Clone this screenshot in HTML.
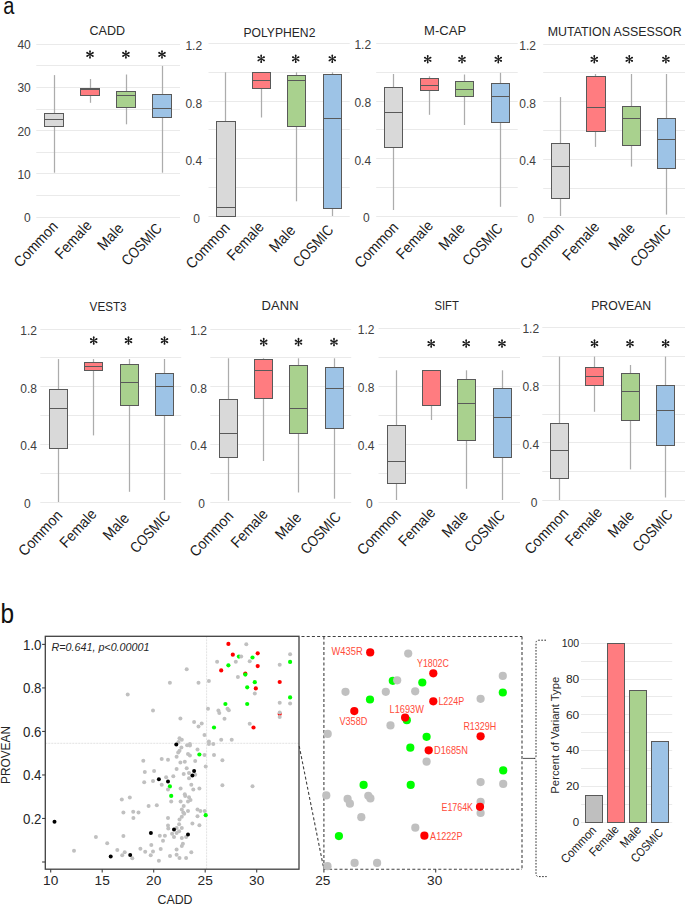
<!DOCTYPE html>
<html><head><meta charset="utf-8"><style>html,body{margin:0;padding:0;background:#fff;overflow:hidden}svg{display:block}</style></head>
<body>
<svg width="685" height="905" viewBox="0 0 685 905" font-family='"Liberation Sans", sans-serif'>
<rect width="685" height="905" fill="#ffffff"/>
<text x="0" y="0" font-size="20" fill="#111" transform="translate(3.2,14.0) scale(1,1.24)">a</text>
<line x1="36.3" y1="44.5" x2="180" y2="44.5" stroke="#eaeaea" stroke-width="1"/>
<line x1="36.3" y1="65.5" x2="180" y2="65.5" stroke="#eaeaea" stroke-width="1"/>
<line x1="36.3" y1="87.5" x2="180" y2="87.5" stroke="#eaeaea" stroke-width="1"/>
<line x1="36.3" y1="109.5" x2="180" y2="109.5" stroke="#eaeaea" stroke-width="1"/>
<line x1="36.3" y1="130.5" x2="180" y2="130.5" stroke="#eaeaea" stroke-width="1"/>
<line x1="36.3" y1="152.5" x2="180" y2="152.5" stroke="#eaeaea" stroke-width="1"/>
<line x1="36.3" y1="173.5" x2="180" y2="173.5" stroke="#eaeaea" stroke-width="1"/>
<line x1="36.3" y1="195.5" x2="180" y2="195.5" stroke="#eaeaea" stroke-width="1"/>
<line x1="36.3" y1="217.5" x2="180" y2="217.5" stroke="#eaeaea" stroke-width="1"/>
<text x="30.80" y="49.10" font-size="12" text-anchor="end" fill="#404040" >40</text>
<text x="30.80" y="92.30" font-size="12" text-anchor="end" fill="#404040" >30</text>
<text x="30.80" y="135.50" font-size="12" text-anchor="end" fill="#404040" >20</text>
<text x="30.80" y="178.70" font-size="12" text-anchor="end" fill="#404040" >10</text>
<text x="30.80" y="221.90" font-size="12" text-anchor="end" fill="#404040" >0</text>
<text x="107.3" y="34.8" font-size="13.7" text-anchor="middle" fill="#262626" textLength="35.5" lengthAdjust="spacingAndGlyphs" >CADD</text>
<line x1="54.5" y1="75.1" x2="54.5" y2="172.7" stroke="#acacac" stroke-width="1.25"/>
<rect x="44.5" y="113.5" width="19.0" height="13.0" fill="#d9d9d9" stroke="#595959" stroke-width="1"/>
<line x1="44.5" y1="119.5" x2="63.5" y2="119.5" stroke="#595959" stroke-width="1"/>
<line x1="90.5" y1="79" x2="90.5" y2="102.8" stroke="#acacac" stroke-width="1.25"/>
<rect x="80.5" y="88.5" width="19.0" height="7.0" fill="#ff7c80" stroke="#595959" stroke-width="1"/>
<line x1="80.5" y1="89.5" x2="99.5" y2="89.5" stroke="#595959" stroke-width="1"/>
<line x1="126.5" y1="74.5" x2="126.5" y2="124.3" stroke="#acacac" stroke-width="1.25"/>
<rect x="116.5" y="91.5" width="19.0" height="16.0" fill="#a9d18e" stroke="#595959" stroke-width="1"/>
<line x1="116.5" y1="95.5" x2="135.5" y2="95.5" stroke="#595959" stroke-width="1"/>
<line x1="162.5" y1="65.9" x2="162.5" y2="172.7" stroke="#acacac" stroke-width="1.25"/>
<rect x="152.5" y="94.5" width="19.0" height="23.0" fill="#9dc3e6" stroke="#595959" stroke-width="1"/>
<line x1="152.5" y1="108.5" x2="171.5" y2="108.5" stroke="#595959" stroke-width="1"/>
<g fill="#1a1a1a"><path d="M90.35,54.40 L90.85,51.00 L89.15,51.00 L89.65,54.40ZM89.65,54.40 L89.15,57.80 L90.85,57.80 L90.35,54.40ZM90.17,54.70 L93.37,53.44 L92.52,51.96 L89.83,54.10ZM90.17,54.10 L87.48,51.96 L86.63,53.44 L89.83,54.70ZM89.83,54.10 L86.63,55.36 L87.48,56.84 L90.17,54.70ZM89.83,54.70 L92.52,56.84 L93.37,55.36 L90.17,54.10Z"/><circle cx="90.00" cy="51.00" r="0.85"/><circle cx="90.00" cy="57.80" r="0.85"/><circle cx="92.94" cy="52.70" r="0.85"/><circle cx="87.06" cy="52.70" r="0.85"/><circle cx="87.06" cy="56.10" r="0.85"/><circle cx="92.94" cy="56.10" r="0.85"/><path d="M126.25,54.40 L126.75,51.00 L125.05,51.00 L125.55,54.40ZM125.55,54.40 L125.05,57.80 L126.75,57.80 L126.25,54.40ZM126.08,54.70 L129.27,53.44 L128.42,51.96 L125.73,54.10ZM126.08,54.10 L123.38,51.96 L122.53,53.44 L125.73,54.70ZM125.73,54.10 L122.53,55.36 L123.38,56.84 L126.08,54.70ZM125.73,54.70 L128.42,56.84 L129.27,55.36 L126.08,54.10Z"/><circle cx="125.90" cy="51.00" r="0.85"/><circle cx="125.90" cy="57.80" r="0.85"/><circle cx="128.84" cy="52.70" r="0.85"/><circle cx="122.96" cy="52.70" r="0.85"/><circle cx="122.96" cy="56.10" r="0.85"/><circle cx="128.84" cy="56.10" r="0.85"/><path d="M162.35,54.40 L162.85,51.00 L161.15,51.00 L161.65,54.40ZM161.65,54.40 L161.15,57.80 L162.85,57.80 L162.35,54.40ZM162.18,54.70 L165.37,53.44 L164.52,51.96 L161.82,54.10ZM162.18,54.10 L159.48,51.96 L158.63,53.44 L161.82,54.70ZM161.82,54.10 L158.63,55.36 L159.48,56.84 L162.18,54.70ZM161.82,54.70 L164.52,56.84 L165.37,55.36 L162.18,54.10Z"/><circle cx="162.00" cy="51.00" r="0.85"/><circle cx="162.00" cy="57.80" r="0.85"/><circle cx="164.94" cy="52.70" r="0.85"/><circle cx="159.06" cy="52.70" r="0.85"/><circle cx="159.06" cy="56.10" r="0.85"/><circle cx="164.94" cy="56.10" r="0.85"/></g>
<text x="0" y="0" font-size="14" text-anchor="end" fill="#1a1a1a" transform="translate(58.70,227.20) rotate(-47) scale(0.99,1.08)">Common</text>
<text x="0" y="0" font-size="14" text-anchor="end" fill="#1a1a1a" transform="translate(92.70,226.20) rotate(-47) scale(0.99,1.08)">Female</text>
<text x="0" y="0" font-size="14" text-anchor="end" fill="#1a1a1a" transform="translate(124.50,229.00) rotate(-47) scale(1.0,1.08)">Male</text>
<text x="0" y="0" font-size="14" text-anchor="end" fill="#1a1a1a" transform="translate(162.80,229.30) rotate(-47) scale(0.91,1.08)">COSMIC</text>
<line x1="208.5" y1="43.5" x2="349.7" y2="43.5" stroke="#eaeaea" stroke-width="1"/>
<line x1="208.5" y1="72.5" x2="349.7" y2="72.5" stroke="#eaeaea" stroke-width="1"/>
<line x1="208.5" y1="101.5" x2="349.7" y2="101.5" stroke="#eaeaea" stroke-width="1"/>
<line x1="208.5" y1="129.5" x2="349.7" y2="129.5" stroke="#eaeaea" stroke-width="1"/>
<line x1="208.5" y1="158.5" x2="349.7" y2="158.5" stroke="#eaeaea" stroke-width="1"/>
<line x1="208.5" y1="187.5" x2="349.7" y2="187.5" stroke="#eaeaea" stroke-width="1"/>
<line x1="208.5" y1="216.5" x2="349.7" y2="216.5" stroke="#eaeaea" stroke-width="1"/>
<text x="202.10" y="49.90" font-size="12" text-anchor="end" fill="#404040" >1.2</text>
<text x="202.10" y="107.53" font-size="12" text-anchor="end" fill="#404040" >0.8</text>
<text x="202.10" y="165.17" font-size="12" text-anchor="end" fill="#404040" >0.4</text>
<text x="200.00" y="222.80" font-size="12" text-anchor="end" fill="#404040" >0</text>
<text x="279.4" y="36.599999999999994" font-size="13.7" text-anchor="middle" fill="#262626" textLength="72" lengthAdjust="spacingAndGlyphs" >POLYPHEN2</text>
<line x1="225.5" y1="72.3" x2="225.5" y2="216.2" stroke="#acacac" stroke-width="1.25"/>
<rect x="216.5" y="121.5" width="19.0" height="95.0" fill="#d9d9d9" stroke="#595959" stroke-width="1"/>
<line x1="216.5" y1="207.5" x2="235.5" y2="207.5" stroke="#595959" stroke-width="1"/>
<line x1="261.5" y1="72.6" x2="261.5" y2="117.5" stroke="#acacac" stroke-width="1.25"/>
<rect x="252.5" y="72.5" width="18.0" height="16.0" fill="#ff7c80" stroke="#595959" stroke-width="1"/>
<line x1="252.5" y1="80.5" x2="270.5" y2="80.5" stroke="#595959" stroke-width="1"/>
<line x1="296.5" y1="72.3" x2="296.5" y2="201.3" stroke="#acacac" stroke-width="1.25"/>
<rect x="287.5" y="75.5" width="18.0" height="51.0" fill="#a9d18e" stroke="#595959" stroke-width="1"/>
<line x1="287.5" y1="80.5" x2="305.5" y2="80.5" stroke="#595959" stroke-width="1"/>
<line x1="332.5" y1="72.3" x2="332.5" y2="216" stroke="#acacac" stroke-width="1.25"/>
<rect x="323.5" y="74.5" width="18.0" height="134.0" fill="#9dc3e6" stroke="#595959" stroke-width="1"/>
<line x1="323.5" y1="118.5" x2="341.5" y2="118.5" stroke="#595959" stroke-width="1"/>
<g fill="#1a1a1a"><path d="M261.55,58.80 L262.05,55.40 L260.35,55.40 L260.85,58.80ZM260.85,58.80 L260.35,62.20 L262.05,62.20 L261.55,58.80ZM261.38,59.10 L264.57,57.84 L263.72,56.36 L261.02,58.50ZM261.38,58.50 L258.68,56.36 L257.83,57.84 L261.02,59.10ZM261.02,58.50 L257.83,59.76 L258.68,61.24 L261.38,59.10ZM261.02,59.10 L263.72,61.24 L264.57,59.76 L261.38,58.50Z"/><circle cx="261.20" cy="55.40" r="0.85"/><circle cx="261.20" cy="62.20" r="0.85"/><circle cx="264.14" cy="57.10" r="0.85"/><circle cx="258.26" cy="57.10" r="0.85"/><circle cx="258.26" cy="60.50" r="0.85"/><circle cx="264.14" cy="60.50" r="0.85"/><path d="M296.05,58.80 L296.55,55.40 L294.85,55.40 L295.35,58.80ZM295.35,58.80 L294.85,62.20 L296.55,62.20 L296.05,58.80ZM295.88,59.10 L299.07,57.84 L298.22,56.36 L295.52,58.50ZM295.88,58.50 L293.18,56.36 L292.33,57.84 L295.52,59.10ZM295.52,58.50 L292.33,59.76 L293.18,61.24 L295.88,59.10ZM295.52,59.10 L298.22,61.24 L299.07,59.76 L295.88,58.50Z"/><circle cx="295.70" cy="55.40" r="0.85"/><circle cx="295.70" cy="62.20" r="0.85"/><circle cx="298.64" cy="57.10" r="0.85"/><circle cx="292.76" cy="57.10" r="0.85"/><circle cx="292.76" cy="60.50" r="0.85"/><circle cx="298.64" cy="60.50" r="0.85"/><path d="M332.65,58.80 L333.15,55.40 L331.45,55.40 L331.95,58.80ZM331.95,58.80 L331.45,62.20 L333.15,62.20 L332.65,58.80ZM332.48,59.10 L335.67,57.84 L334.82,56.36 L332.12,58.50ZM332.48,58.50 L329.78,56.36 L328.93,57.84 L332.12,59.10ZM332.12,58.50 L328.93,59.76 L329.78,61.24 L332.48,59.10ZM332.12,59.10 L334.82,61.24 L335.67,59.76 L332.48,58.50Z"/><circle cx="332.30" cy="55.40" r="0.85"/><circle cx="332.30" cy="62.20" r="0.85"/><circle cx="335.24" cy="57.10" r="0.85"/><circle cx="329.36" cy="57.10" r="0.85"/><circle cx="329.36" cy="60.50" r="0.85"/><circle cx="335.24" cy="60.50" r="0.85"/></g>
<text x="0" y="0" font-size="14" text-anchor="end" fill="#1a1a1a" transform="translate(230.70,228.70) rotate(-47) scale(0.99,1.08)">Common</text>
<text x="0" y="0" font-size="14" text-anchor="end" fill="#1a1a1a" transform="translate(264.80,227.70) rotate(-47) scale(0.99,1.08)">Female</text>
<text x="0" y="0" font-size="14" text-anchor="end" fill="#1a1a1a" transform="translate(296.30,231.00) rotate(-47) scale(1.0,1.08)">Male</text>
<text x="0" y="0" font-size="14" text-anchor="end" fill="#1a1a1a" transform="translate(334.30,230.90) rotate(-47) scale(0.91,1.08)">COSMIC</text>
<line x1="376.2" y1="43.5" x2="517.7" y2="43.5" stroke="#eaeaea" stroke-width="1"/>
<line x1="376.2" y1="72.5" x2="517.7" y2="72.5" stroke="#eaeaea" stroke-width="1"/>
<line x1="376.2" y1="101.5" x2="517.7" y2="101.5" stroke="#eaeaea" stroke-width="1"/>
<line x1="376.2" y1="129.5" x2="517.7" y2="129.5" stroke="#eaeaea" stroke-width="1"/>
<line x1="376.2" y1="158.5" x2="517.7" y2="158.5" stroke="#eaeaea" stroke-width="1"/>
<line x1="376.2" y1="187.5" x2="517.7" y2="187.5" stroke="#eaeaea" stroke-width="1"/>
<line x1="376.2" y1="216.5" x2="517.7" y2="216.5" stroke="#eaeaea" stroke-width="1"/>
<text x="371.10" y="49.40" font-size="12" text-anchor="end" fill="#404040" >1.2</text>
<text x="371.10" y="107.03" font-size="12" text-anchor="end" fill="#404040" >0.8</text>
<text x="371.10" y="164.67" font-size="12" text-anchor="end" fill="#404040" >0.4</text>
<text x="369.60" y="222.30" font-size="12" text-anchor="end" fill="#404040" >0</text>
<text x="445.1" y="35.3" font-size="13.7" text-anchor="middle" fill="#262626" textLength="42" lengthAdjust="spacingAndGlyphs" >M-CAP</text>
<line x1="393.5" y1="74" x2="393.5" y2="210" stroke="#acacac" stroke-width="1.25"/>
<rect x="384.5" y="87.5" width="18.0" height="60.0" fill="#d9d9d9" stroke="#595959" stroke-width="1"/>
<line x1="384.5" y1="112.5" x2="402.5" y2="112.5" stroke="#595959" stroke-width="1"/>
<line x1="429.5" y1="76.3" x2="429.5" y2="114.8" stroke="#acacac" stroke-width="1.25"/>
<rect x="420.5" y="78.5" width="18.0" height="12.0" fill="#ff7c80" stroke="#595959" stroke-width="1"/>
<line x1="420.5" y1="85.5" x2="438.5" y2="85.5" stroke="#595959" stroke-width="1"/>
<line x1="464.5" y1="74.5" x2="464.5" y2="125" stroke="#acacac" stroke-width="1.25"/>
<rect x="455.5" y="81.5" width="18.0" height="15.0" fill="#a9d18e" stroke="#595959" stroke-width="1"/>
<line x1="455.5" y1="89.5" x2="473.5" y2="89.5" stroke="#595959" stroke-width="1"/>
<line x1="500.5" y1="72.8" x2="500.5" y2="206.8" stroke="#acacac" stroke-width="1.25"/>
<rect x="491.5" y="83.5" width="18.0" height="39.0" fill="#9dc3e6" stroke="#595959" stroke-width="1"/>
<line x1="491.5" y1="96.5" x2="509.5" y2="96.5" stroke="#595959" stroke-width="1"/>
<g fill="#1a1a1a"><path d="M428.05,59.20 L428.55,55.80 L426.85,55.80 L427.35,59.20ZM427.35,59.20 L426.85,62.60 L428.55,62.60 L428.05,59.20ZM427.88,59.50 L431.07,58.24 L430.22,56.76 L427.52,58.90ZM427.88,58.90 L425.18,56.76 L424.33,58.24 L427.52,59.50ZM427.52,58.90 L424.33,60.16 L425.18,61.64 L427.88,59.50ZM427.52,59.50 L430.22,61.64 L431.07,60.16 L427.88,58.90Z"/><circle cx="427.70" cy="55.80" r="0.85"/><circle cx="427.70" cy="62.60" r="0.85"/><circle cx="430.64" cy="57.50" r="0.85"/><circle cx="424.76" cy="57.50" r="0.85"/><circle cx="424.76" cy="60.90" r="0.85"/><circle cx="430.64" cy="60.90" r="0.85"/><path d="M462.35,59.20 L462.85,55.80 L461.15,55.80 L461.65,59.20ZM461.65,59.20 L461.15,62.60 L462.85,62.60 L462.35,59.20ZM462.18,59.50 L465.37,58.24 L464.52,56.76 L461.82,58.90ZM462.18,58.90 L459.48,56.76 L458.63,58.24 L461.82,59.50ZM461.82,58.90 L458.63,60.16 L459.48,61.64 L462.18,59.50ZM461.82,59.50 L464.52,61.64 L465.37,60.16 L462.18,58.90Z"/><circle cx="462.00" cy="55.80" r="0.85"/><circle cx="462.00" cy="62.60" r="0.85"/><circle cx="464.94" cy="57.50" r="0.85"/><circle cx="459.06" cy="57.50" r="0.85"/><circle cx="459.06" cy="60.90" r="0.85"/><circle cx="464.94" cy="60.90" r="0.85"/><path d="M498.65,59.20 L499.15,55.80 L497.45,55.80 L497.95,59.20ZM497.95,59.20 L497.45,62.60 L499.15,62.60 L498.65,59.20ZM498.48,59.50 L501.67,58.24 L500.82,56.76 L498.12,58.90ZM498.48,58.90 L495.78,56.76 L494.93,58.24 L498.12,59.50ZM498.12,58.90 L494.93,60.16 L495.78,61.64 L498.48,59.50ZM498.12,59.50 L500.82,61.64 L501.67,60.16 L498.48,58.90Z"/><circle cx="498.30" cy="55.80" r="0.85"/><circle cx="498.30" cy="62.60" r="0.85"/><circle cx="501.24" cy="57.50" r="0.85"/><circle cx="495.36" cy="57.50" r="0.85"/><circle cx="495.36" cy="60.90" r="0.85"/><circle cx="501.24" cy="60.90" r="0.85"/></g>
<text x="0" y="0" font-size="14" text-anchor="end" fill="#1a1a1a" transform="translate(399.30,228.00) rotate(-47) scale(0.99,1.08)">Common</text>
<text x="0" y="0" font-size="14" text-anchor="end" fill="#1a1a1a" transform="translate(433.90,226.40) rotate(-47) scale(0.99,1.08)">Female</text>
<text x="0" y="0" font-size="14" text-anchor="end" fill="#1a1a1a" transform="translate(465.70,229.10) rotate(-47) scale(1.0,1.08)">Male</text>
<text x="0" y="0" font-size="14" text-anchor="end" fill="#1a1a1a" transform="translate(503.60,229.30) rotate(-47) scale(0.91,1.08)">COSMIC</text>
<line x1="543.2" y1="44.5" x2="685" y2="44.5" stroke="#eaeaea" stroke-width="1"/>
<line x1="543.2" y1="72.5" x2="685" y2="72.5" stroke="#eaeaea" stroke-width="1"/>
<line x1="543.2" y1="101.5" x2="685" y2="101.5" stroke="#eaeaea" stroke-width="1"/>
<line x1="543.2" y1="130.5" x2="685" y2="130.5" stroke="#eaeaea" stroke-width="1"/>
<line x1="543.2" y1="159.5" x2="685" y2="159.5" stroke="#eaeaea" stroke-width="1"/>
<line x1="543.2" y1="188.5" x2="685" y2="188.5" stroke="#eaeaea" stroke-width="1"/>
<line x1="543.2" y1="217.5" x2="685" y2="217.5" stroke="#eaeaea" stroke-width="1"/>
<text x="536.00" y="50.00" font-size="12" text-anchor="end" fill="#404040" >1.2</text>
<text x="536.00" y="107.70" font-size="12" text-anchor="end" fill="#404040" >0.8</text>
<text x="536.00" y="165.40" font-size="12" text-anchor="end" fill="#404040" >0.4</text>
<text x="534.20" y="223.10" font-size="12" text-anchor="end" fill="#404040" >0</text>
<text x="614.7" y="35.8" font-size="13.7" text-anchor="middle" fill="#262626" textLength="134" lengthAdjust="spacingAndGlyphs" >MUTATION ASSESSOR</text>
<line x1="560.5" y1="97.1" x2="560.5" y2="216" stroke="#acacac" stroke-width="1.25"/>
<rect x="551.5" y="143.5" width="18.0" height="55.0" fill="#d9d9d9" stroke="#595959" stroke-width="1"/>
<line x1="551.5" y1="166.5" x2="569.5" y2="166.5" stroke="#595959" stroke-width="1"/>
<line x1="595.5" y1="74" x2="595.5" y2="146.9" stroke="#acacac" stroke-width="1.25"/>
<rect x="586.5" y="76.5" width="19.0" height="55.0" fill="#ff7c80" stroke="#595959" stroke-width="1"/>
<line x1="586.5" y1="107.5" x2="605.5" y2="107.5" stroke="#595959" stroke-width="1"/>
<line x1="631.5" y1="74" x2="631.5" y2="166.6" stroke="#acacac" stroke-width="1.25"/>
<rect x="622.5" y="106.5" width="18.0" height="39.0" fill="#a9d18e" stroke="#595959" stroke-width="1"/>
<line x1="622.5" y1="118.5" x2="640.5" y2="118.5" stroke="#595959" stroke-width="1"/>
<line x1="666.5" y1="74" x2="666.5" y2="214.6" stroke="#acacac" stroke-width="1.25"/>
<rect x="657.5" y="118.5" width="18.0" height="50.0" fill="#9dc3e6" stroke="#595959" stroke-width="1"/>
<line x1="657.5" y1="139.5" x2="675.5" y2="139.5" stroke="#595959" stroke-width="1"/>
<g fill="#1a1a1a"><path d="M594.65,59.20 L595.15,55.80 L593.45,55.80 L593.95,59.20ZM593.95,59.20 L593.45,62.60 L595.15,62.60 L594.65,59.20ZM594.47,59.50 L597.67,58.24 L596.82,56.76 L594.12,58.90ZM594.47,58.90 L591.78,56.76 L590.93,58.24 L594.12,59.50ZM594.12,58.90 L590.93,60.16 L591.78,61.64 L594.47,59.50ZM594.12,59.50 L596.82,61.64 L597.67,60.16 L594.47,58.90Z"/><circle cx="594.30" cy="55.80" r="0.85"/><circle cx="594.30" cy="62.60" r="0.85"/><circle cx="597.24" cy="57.50" r="0.85"/><circle cx="591.36" cy="57.50" r="0.85"/><circle cx="591.36" cy="60.90" r="0.85"/><circle cx="597.24" cy="60.90" r="0.85"/><path d="M629.65,59.20 L630.15,55.80 L628.45,55.80 L628.95,59.20ZM628.95,59.20 L628.45,62.60 L630.15,62.60 L629.65,59.20ZM629.47,59.50 L632.67,58.24 L631.82,56.76 L629.12,58.90ZM629.47,58.90 L626.78,56.76 L625.93,58.24 L629.12,59.50ZM629.12,58.90 L625.93,60.16 L626.78,61.64 L629.47,59.50ZM629.12,59.50 L631.82,61.64 L632.67,60.16 L629.47,58.90Z"/><circle cx="629.30" cy="55.80" r="0.85"/><circle cx="629.30" cy="62.60" r="0.85"/><circle cx="632.24" cy="57.50" r="0.85"/><circle cx="626.36" cy="57.50" r="0.85"/><circle cx="626.36" cy="60.90" r="0.85"/><circle cx="632.24" cy="60.90" r="0.85"/><path d="M666.25,59.20 L666.75,55.80 L665.05,55.80 L665.55,59.20ZM665.55,59.20 L665.05,62.60 L666.75,62.60 L666.25,59.20ZM666.07,59.50 L669.27,58.24 L668.42,56.76 L665.73,58.90ZM666.07,58.90 L663.38,56.76 L662.53,58.24 L665.73,59.50ZM665.73,58.90 L662.53,60.16 L663.38,61.64 L666.07,59.50ZM665.73,59.50 L668.42,61.64 L669.27,60.16 L666.07,58.90Z"/><circle cx="665.90" cy="55.80" r="0.85"/><circle cx="665.90" cy="62.60" r="0.85"/><circle cx="668.84" cy="57.50" r="0.85"/><circle cx="662.96" cy="57.50" r="0.85"/><circle cx="662.96" cy="60.90" r="0.85"/><circle cx="668.84" cy="60.90" r="0.85"/></g>
<text x="0" y="0" font-size="14" text-anchor="end" fill="#1a1a1a" transform="translate(564.80,228.80) rotate(-47) scale(0.99,1.08)">Common</text>
<text x="0" y="0" font-size="14" text-anchor="end" fill="#1a1a1a" transform="translate(600.20,227.70) rotate(-47) scale(0.99,1.08)">Female</text>
<text x="0" y="0" font-size="14" text-anchor="end" fill="#1a1a1a" transform="translate(635.70,229.00) rotate(-47) scale(1.0,1.08)">Male</text>
<text x="0" y="0" font-size="14" text-anchor="end" fill="#1a1a1a" transform="translate(671.80,230.40) rotate(-47) scale(0.91,1.08)">COSMIC</text>
<line x1="40.3" y1="329.5" x2="181.2" y2="329.5" stroke="#eaeaea" stroke-width="1"/>
<line x1="40.3" y1="357.5" x2="181.2" y2="357.5" stroke="#eaeaea" stroke-width="1"/>
<line x1="40.3" y1="386.5" x2="181.2" y2="386.5" stroke="#eaeaea" stroke-width="1"/>
<line x1="40.3" y1="415.5" x2="181.2" y2="415.5" stroke="#eaeaea" stroke-width="1"/>
<line x1="40.3" y1="444.5" x2="181.2" y2="444.5" stroke="#eaeaea" stroke-width="1"/>
<line x1="40.3" y1="473.5" x2="181.2" y2="473.5" stroke="#eaeaea" stroke-width="1"/>
<line x1="40.3" y1="502.5" x2="181.2" y2="502.5" stroke="#eaeaea" stroke-width="1"/>
<text x="36.90" y="334.90" font-size="12" text-anchor="end" fill="#404040" >1.2</text>
<text x="36.90" y="392.57" font-size="12" text-anchor="end" fill="#404040" >0.8</text>
<text x="36.90" y="450.23" font-size="12" text-anchor="end" fill="#404040" >0.4</text>
<text x="30.80" y="507.90" font-size="12" text-anchor="end" fill="#404040" >0</text>
<text x="108.1" y="311.3" font-size="13.7" text-anchor="middle" fill="#262626" textLength="37" lengthAdjust="spacingAndGlyphs" >VEST3</text>
<line x1="58.5" y1="359.1" x2="58.5" y2="502" stroke="#acacac" stroke-width="1.25"/>
<rect x="49.5" y="389.5" width="18.0" height="59.0" fill="#d9d9d9" stroke="#595959" stroke-width="1"/>
<line x1="49.5" y1="408.5" x2="67.5" y2="408.5" stroke="#595959" stroke-width="1"/>
<line x1="93.5" y1="359.1" x2="93.5" y2="435.4" stroke="#acacac" stroke-width="1.25"/>
<rect x="84.5" y="362.5" width="18.0" height="8.0" fill="#ff7c80" stroke="#595959" stroke-width="1"/>
<line x1="84.5" y1="366.5" x2="102.5" y2="366.5" stroke="#595959" stroke-width="1"/>
<line x1="129.5" y1="359" x2="129.5" y2="491.8" stroke="#acacac" stroke-width="1.25"/>
<rect x="120.5" y="364.5" width="18.0" height="41.0" fill="#a9d18e" stroke="#595959" stroke-width="1"/>
<line x1="120.5" y1="382.5" x2="138.5" y2="382.5" stroke="#595959" stroke-width="1"/>
<line x1="164.5" y1="359" x2="164.5" y2="500" stroke="#acacac" stroke-width="1.25"/>
<rect x="155.5" y="373.5" width="18.0" height="42.0" fill="#9dc3e6" stroke="#595959" stroke-width="1"/>
<line x1="155.5" y1="386.5" x2="173.5" y2="386.5" stroke="#595959" stroke-width="1"/>
<g fill="#1a1a1a"><path d="M94.05,340.60 L94.55,337.20 L92.85,337.20 L93.35,340.60ZM93.35,340.60 L92.85,344.00 L94.55,344.00 L94.05,340.60ZM93.88,340.90 L97.07,339.64 L96.22,338.16 L93.53,340.30ZM93.88,340.30 L91.18,338.16 L90.33,339.64 L93.53,340.90ZM93.53,340.30 L90.33,341.56 L91.18,343.04 L93.88,340.90ZM93.53,340.90 L96.22,343.04 L97.07,341.56 L93.88,340.30Z"/><circle cx="93.70" cy="337.20" r="0.85"/><circle cx="93.70" cy="344.00" r="0.85"/><circle cx="96.64" cy="338.90" r="0.85"/><circle cx="90.76" cy="338.90" r="0.85"/><circle cx="90.76" cy="342.30" r="0.85"/><circle cx="96.64" cy="342.30" r="0.85"/><path d="M128.85,340.60 L129.35,337.20 L127.65,337.20 L128.15,340.60ZM128.15,340.60 L127.65,344.00 L129.35,344.00 L128.85,340.60ZM128.68,340.90 L131.87,339.64 L131.02,338.16 L128.32,340.30ZM128.68,340.30 L125.98,338.16 L125.13,339.64 L128.32,340.90ZM128.32,340.30 L125.13,341.56 L125.98,343.04 L128.68,340.90ZM128.32,340.90 L131.02,343.04 L131.87,341.56 L128.68,340.30Z"/><circle cx="128.50" cy="337.20" r="0.85"/><circle cx="128.50" cy="344.00" r="0.85"/><circle cx="131.44" cy="338.90" r="0.85"/><circle cx="125.56" cy="338.90" r="0.85"/><circle cx="125.56" cy="342.30" r="0.85"/><circle cx="131.44" cy="342.30" r="0.85"/><path d="M164.85,340.60 L165.35,337.20 L163.65,337.20 L164.15,340.60ZM164.15,340.60 L163.65,344.00 L165.35,344.00 L164.85,340.60ZM164.68,340.90 L167.87,339.64 L167.02,338.16 L164.32,340.30ZM164.68,340.30 L161.98,338.16 L161.13,339.64 L164.32,340.90ZM164.32,340.30 L161.13,341.56 L161.98,343.04 L164.68,340.90ZM164.32,340.90 L167.02,343.04 L167.87,341.56 L164.68,340.30Z"/><circle cx="164.50" cy="337.20" r="0.85"/><circle cx="164.50" cy="344.00" r="0.85"/><circle cx="167.44" cy="338.90" r="0.85"/><circle cx="161.56" cy="338.90" r="0.85"/><circle cx="161.56" cy="342.30" r="0.85"/><circle cx="167.44" cy="342.30" r="0.85"/></g>
<text x="0" y="0" font-size="14" text-anchor="end" fill="#1a1a1a" transform="translate(63.20,516.00) rotate(-47) scale(0.99,1.08)">Common</text>
<text x="0" y="0" font-size="14" text-anchor="end" fill="#1a1a1a" transform="translate(97.40,514.90) rotate(-47) scale(0.99,1.08)">Female</text>
<text x="0" y="0" font-size="14" text-anchor="end" fill="#1a1a1a" transform="translate(130.00,519.10) rotate(-47) scale(1.0,1.08)">Male</text>
<text x="0" y="0" font-size="14" text-anchor="end" fill="#1a1a1a" transform="translate(171.30,516.70) rotate(-47) scale(0.91,1.08)">COSMIC</text>
<line x1="210.3" y1="329.5" x2="351.2" y2="329.5" stroke="#eaeaea" stroke-width="1"/>
<line x1="210.3" y1="357.5" x2="351.2" y2="357.5" stroke="#eaeaea" stroke-width="1"/>
<line x1="210.3" y1="386.5" x2="351.2" y2="386.5" stroke="#eaeaea" stroke-width="1"/>
<line x1="210.3" y1="415.5" x2="351.2" y2="415.5" stroke="#eaeaea" stroke-width="1"/>
<line x1="210.3" y1="444.5" x2="351.2" y2="444.5" stroke="#eaeaea" stroke-width="1"/>
<line x1="210.3" y1="473.5" x2="351.2" y2="473.5" stroke="#eaeaea" stroke-width="1"/>
<line x1="210.3" y1="502.5" x2="351.2" y2="502.5" stroke="#eaeaea" stroke-width="1"/>
<text x="206.90" y="334.90" font-size="12" text-anchor="end" fill="#404040" >1.2</text>
<text x="206.90" y="392.57" font-size="12" text-anchor="end" fill="#404040" >0.8</text>
<text x="206.90" y="450.23" font-size="12" text-anchor="end" fill="#404040" >0.4</text>
<text x="205.00" y="507.90" font-size="12" text-anchor="end" fill="#404040" >0</text>
<text x="280.1" y="310.3" font-size="13.7" text-anchor="middle" fill="#262626" textLength="37" lengthAdjust="spacingAndGlyphs" >DANN</text>
<line x1="228.5" y1="358.3" x2="228.5" y2="500.7" stroke="#acacac" stroke-width="1.25"/>
<rect x="219.5" y="399.5" width="18.0" height="58.0" fill="#d9d9d9" stroke="#595959" stroke-width="1"/>
<line x1="219.5" y1="433.5" x2="237.5" y2="433.5" stroke="#595959" stroke-width="1"/>
<line x1="263.5" y1="358.3" x2="263.5" y2="461" stroke="#acacac" stroke-width="1.25"/>
<rect x="254.5" y="359.5" width="18.0" height="39.0" fill="#ff7c80" stroke="#595959" stroke-width="1"/>
<line x1="254.5" y1="370.5" x2="272.5" y2="370.5" stroke="#595959" stroke-width="1"/>
<line x1="298.5" y1="358.3" x2="298.5" y2="492.5" stroke="#acacac" stroke-width="1.25"/>
<rect x="289.5" y="365.5" width="18.0" height="68.0" fill="#a9d18e" stroke="#595959" stroke-width="1"/>
<line x1="289.5" y1="408.5" x2="307.5" y2="408.5" stroke="#595959" stroke-width="1"/>
<line x1="334.5" y1="358.3" x2="334.5" y2="498.7" stroke="#acacac" stroke-width="1.25"/>
<rect x="325.5" y="367.5" width="18.0" height="61.0" fill="#9dc3e6" stroke="#595959" stroke-width="1"/>
<line x1="325.5" y1="388.5" x2="343.5" y2="388.5" stroke="#595959" stroke-width="1"/>
<g fill="#1a1a1a"><path d="M264.05,342.10 L264.55,338.70 L262.85,338.70 L263.35,342.10ZM263.35,342.10 L262.85,345.50 L264.55,345.50 L264.05,342.10ZM263.88,342.40 L267.07,341.14 L266.22,339.66 L263.52,341.80ZM263.88,341.80 L261.18,339.66 L260.33,341.14 L263.52,342.40ZM263.52,341.80 L260.33,343.06 L261.18,344.54 L263.88,342.40ZM263.52,342.40 L266.22,344.54 L267.07,343.06 L263.88,341.80Z"/><circle cx="263.70" cy="338.70" r="0.85"/><circle cx="263.70" cy="345.50" r="0.85"/><circle cx="266.64" cy="340.40" r="0.85"/><circle cx="260.76" cy="340.40" r="0.85"/><circle cx="260.76" cy="343.80" r="0.85"/><circle cx="266.64" cy="343.80" r="0.85"/><path d="M298.85,342.10 L299.35,338.70 L297.65,338.70 L298.15,342.10ZM298.15,342.10 L297.65,345.50 L299.35,345.50 L298.85,342.10ZM298.68,342.40 L301.87,341.14 L301.02,339.66 L298.32,341.80ZM298.68,341.80 L295.98,339.66 L295.13,341.14 L298.32,342.40ZM298.32,341.80 L295.13,343.06 L295.98,344.54 L298.68,342.40ZM298.32,342.40 L301.02,344.54 L301.87,343.06 L298.68,341.80Z"/><circle cx="298.50" cy="338.70" r="0.85"/><circle cx="298.50" cy="345.50" r="0.85"/><circle cx="301.44" cy="340.40" r="0.85"/><circle cx="295.56" cy="340.40" r="0.85"/><circle cx="295.56" cy="343.80" r="0.85"/><circle cx="301.44" cy="343.80" r="0.85"/><path d="M334.35,342.10 L334.85,338.70 L333.15,338.70 L333.65,342.10ZM333.65,342.10 L333.15,345.50 L334.85,345.50 L334.35,342.10ZM334.18,342.40 L337.37,341.14 L336.52,339.66 L333.82,341.80ZM334.18,341.80 L331.48,339.66 L330.63,341.14 L333.82,342.40ZM333.82,341.80 L330.63,343.06 L331.48,344.54 L334.18,342.40ZM333.82,342.40 L336.52,344.54 L337.37,343.06 L334.18,341.80Z"/><circle cx="334.00" cy="338.70" r="0.85"/><circle cx="334.00" cy="345.50" r="0.85"/><circle cx="336.94" cy="340.40" r="0.85"/><circle cx="331.06" cy="340.40" r="0.85"/><circle cx="331.06" cy="343.80" r="0.85"/><circle cx="336.94" cy="343.80" r="0.85"/></g>
<text x="0" y="0" font-size="14" text-anchor="end" fill="#1a1a1a" transform="translate(234.30,516.60) rotate(-47) scale(0.99,1.08)">Common</text>
<text x="0" y="0" font-size="14" text-anchor="end" fill="#1a1a1a" transform="translate(268.70,514.90) rotate(-47) scale(0.99,1.08)">Female</text>
<text x="0" y="0" font-size="14" text-anchor="end" fill="#1a1a1a" transform="translate(302.20,518.40) rotate(-47) scale(1.0,1.08)">Male</text>
<text x="0" y="0" font-size="14" text-anchor="end" fill="#1a1a1a" transform="translate(341.70,517.80) rotate(-47) scale(0.91,1.08)">COSMIC</text>
<line x1="378.5" y1="328.5" x2="520" y2="328.5" stroke="#eaeaea" stroke-width="1"/>
<line x1="378.5" y1="357.5" x2="520" y2="357.5" stroke="#eaeaea" stroke-width="1"/>
<line x1="378.5" y1="386.5" x2="520" y2="386.5" stroke="#eaeaea" stroke-width="1"/>
<line x1="378.5" y1="415.5" x2="520" y2="415.5" stroke="#eaeaea" stroke-width="1"/>
<line x1="378.5" y1="444.5" x2="520" y2="444.5" stroke="#eaeaea" stroke-width="1"/>
<line x1="378.5" y1="473.5" x2="520" y2="473.5" stroke="#eaeaea" stroke-width="1"/>
<line x1="378.5" y1="502.5" x2="520" y2="502.5" stroke="#eaeaea" stroke-width="1"/>
<text x="374.50" y="334.40" font-size="12" text-anchor="end" fill="#404040" >1.2</text>
<text x="374.50" y="392.23" font-size="12" text-anchor="end" fill="#404040" >0.8</text>
<text x="374.50" y="450.07" font-size="12" text-anchor="end" fill="#404040" >0.4</text>
<text x="372.70" y="507.90" font-size="12" text-anchor="end" fill="#404040" >0</text>
<text x="446.6" y="309.8" font-size="13.7" text-anchor="middle" fill="#262626" textLength="24.4" lengthAdjust="spacingAndGlyphs" >SIFT</text>
<line x1="396.5" y1="370.3" x2="396.5" y2="500" stroke="#acacac" stroke-width="1.25"/>
<rect x="387.5" y="425.5" width="18.0" height="58.0" fill="#d9d9d9" stroke="#595959" stroke-width="1"/>
<line x1="387.5" y1="461.5" x2="405.5" y2="461.5" stroke="#595959" stroke-width="1"/>
<line x1="431.5" y1="370.3" x2="431.5" y2="420" stroke="#acacac" stroke-width="1.25"/>
<rect x="422.5" y="370.5" width="18.0" height="35.0" fill="#ff7c80" stroke="#595959" stroke-width="1"/>
<line x1="466.5" y1="370.3" x2="466.5" y2="488.8" stroke="#acacac" stroke-width="1.25"/>
<rect x="457.5" y="379.5" width="18.0" height="61.0" fill="#a9d18e" stroke="#595959" stroke-width="1"/>
<line x1="457.5" y1="403.5" x2="475.5" y2="403.5" stroke="#595959" stroke-width="1"/>
<line x1="502.5" y1="370.3" x2="502.5" y2="500" stroke="#acacac" stroke-width="1.25"/>
<rect x="493.5" y="388.5" width="18.0" height="69.0" fill="#9dc3e6" stroke="#595959" stroke-width="1"/>
<line x1="493.5" y1="417.5" x2="511.5" y2="417.5" stroke="#595959" stroke-width="1"/>
<g fill="#1a1a1a"><path d="M431.55,343.60 L432.05,340.20 L430.35,340.20 L430.85,343.60ZM430.85,343.60 L430.35,347.00 L432.05,347.00 L431.55,343.60ZM431.38,343.90 L434.57,342.64 L433.72,341.16 L431.02,343.30ZM431.38,343.30 L428.68,341.16 L427.83,342.64 L431.02,343.90ZM431.02,343.30 L427.83,344.56 L428.68,346.04 L431.38,343.90ZM431.02,343.90 L433.72,346.04 L434.57,344.56 L431.38,343.30Z"/><circle cx="431.20" cy="340.20" r="0.85"/><circle cx="431.20" cy="347.00" r="0.85"/><circle cx="434.14" cy="341.90" r="0.85"/><circle cx="428.26" cy="341.90" r="0.85"/><circle cx="428.26" cy="345.30" r="0.85"/><circle cx="434.14" cy="345.30" r="0.85"/><path d="M466.55,343.60 L467.05,340.20 L465.35,340.20 L465.85,343.60ZM465.85,343.60 L465.35,347.00 L467.05,347.00 L466.55,343.60ZM466.38,343.90 L469.57,342.64 L468.72,341.16 L466.02,343.30ZM466.38,343.30 L463.68,341.16 L462.83,342.64 L466.02,343.90ZM466.02,343.30 L462.83,344.56 L463.68,346.04 L466.38,343.90ZM466.02,343.90 L468.72,346.04 L469.57,344.56 L466.38,343.30Z"/><circle cx="466.20" cy="340.20" r="0.85"/><circle cx="466.20" cy="347.00" r="0.85"/><circle cx="469.14" cy="341.90" r="0.85"/><circle cx="463.26" cy="341.90" r="0.85"/><circle cx="463.26" cy="345.30" r="0.85"/><circle cx="469.14" cy="345.30" r="0.85"/><path d="M502.35,343.60 L502.85,340.20 L501.15,340.20 L501.65,343.60ZM501.65,343.60 L501.15,347.00 L502.85,347.00 L502.35,343.60ZM502.18,343.90 L505.37,342.64 L504.52,341.16 L501.82,343.30ZM502.18,343.30 L499.48,341.16 L498.63,342.64 L501.82,343.90ZM501.82,343.30 L498.63,344.56 L499.48,346.04 L502.18,343.90ZM501.82,343.90 L504.52,346.04 L505.37,344.56 L502.18,343.30Z"/><circle cx="502.00" cy="340.20" r="0.85"/><circle cx="502.00" cy="347.00" r="0.85"/><circle cx="504.94" cy="341.90" r="0.85"/><circle cx="499.06" cy="341.90" r="0.85"/><circle cx="499.06" cy="345.30" r="0.85"/><circle cx="504.94" cy="345.30" r="0.85"/></g>
<text x="0" y="0" font-size="14" text-anchor="end" fill="#1a1a1a" transform="translate(401.80,515.00) rotate(-47) scale(0.99,1.08)">Common</text>
<text x="0" y="0" font-size="14" text-anchor="end" fill="#1a1a1a" transform="translate(436.20,513.40) rotate(-47) scale(0.99,1.08)">Female</text>
<text x="0" y="0" font-size="14" text-anchor="end" fill="#1a1a1a" transform="translate(469.00,516.30) rotate(-47) scale(1.0,1.08)">Male</text>
<text x="0" y="0" font-size="14" text-anchor="end" fill="#1a1a1a" transform="translate(505.80,516.00) rotate(-47) scale(0.91,1.08)">COSMIC</text>
<line x1="542.3" y1="327.5" x2="685" y2="327.5" stroke="#eaeaea" stroke-width="1"/>
<line x1="542.3" y1="356.5" x2="685" y2="356.5" stroke="#eaeaea" stroke-width="1"/>
<line x1="542.3" y1="385.5" x2="685" y2="385.5" stroke="#eaeaea" stroke-width="1"/>
<line x1="542.3" y1="414.5" x2="685" y2="414.5" stroke="#eaeaea" stroke-width="1"/>
<line x1="542.3" y1="442.5" x2="685" y2="442.5" stroke="#eaeaea" stroke-width="1"/>
<line x1="542.3" y1="471.5" x2="685" y2="471.5" stroke="#eaeaea" stroke-width="1"/>
<line x1="542.3" y1="500.5" x2="685" y2="500.5" stroke="#eaeaea" stroke-width="1"/>
<text x="539.10" y="333.20" font-size="12" text-anchor="end" fill="#404040" >1.2</text>
<text x="539.10" y="391.00" font-size="12" text-anchor="end" fill="#404040" >0.8</text>
<text x="539.10" y="448.80" font-size="12" text-anchor="end" fill="#404040" >0.4</text>
<text x="537.50" y="506.60" font-size="12" text-anchor="end" fill="#404040" >0</text>
<text x="621.2" y="309.8" font-size="13.7" text-anchor="middle" fill="#262626" textLength="60" lengthAdjust="spacingAndGlyphs" >PROVEAN</text>
<line x1="559.5" y1="356.6" x2="559.5" y2="500" stroke="#acacac" stroke-width="1.25"/>
<rect x="550.5" y="423.5" width="18.0" height="55.0" fill="#d9d9d9" stroke="#595959" stroke-width="1"/>
<line x1="550.5" y1="450.5" x2="568.5" y2="450.5" stroke="#595959" stroke-width="1"/>
<line x1="594.5" y1="356.6" x2="594.5" y2="411.8" stroke="#acacac" stroke-width="1.25"/>
<rect x="585.5" y="367.5" width="18.0" height="18.0" fill="#ff7c80" stroke="#595959" stroke-width="1"/>
<line x1="585.5" y1="376.5" x2="603.5" y2="376.5" stroke="#595959" stroke-width="1"/>
<line x1="630.5" y1="365" x2="630.5" y2="469.4" stroke="#acacac" stroke-width="1.25"/>
<rect x="621.5" y="373.5" width="18.0" height="47.0" fill="#a9d18e" stroke="#595959" stroke-width="1"/>
<line x1="621.5" y1="391.5" x2="639.5" y2="391.5" stroke="#595959" stroke-width="1"/>
<line x1="665.5" y1="356.6" x2="665.5" y2="497.5" stroke="#acacac" stroke-width="1.25"/>
<rect x="656.5" y="385.5" width="18.0" height="60.0" fill="#9dc3e6" stroke="#595959" stroke-width="1"/>
<line x1="656.5" y1="410.5" x2="674.5" y2="410.5" stroke="#595959" stroke-width="1"/>
<g fill="#1a1a1a"><path d="M594.85,343.60 L595.35,340.20 L593.65,340.20 L594.15,343.60ZM594.15,343.60 L593.65,347.00 L595.35,347.00 L594.85,343.60ZM594.67,343.90 L597.87,342.64 L597.02,341.16 L594.33,343.30ZM594.67,343.30 L591.98,341.16 L591.13,342.64 L594.33,343.90ZM594.33,343.30 L591.13,344.56 L591.98,346.04 L594.67,343.90ZM594.33,343.90 L597.02,346.04 L597.87,344.56 L594.67,343.30Z"/><circle cx="594.50" cy="340.20" r="0.85"/><circle cx="594.50" cy="347.00" r="0.85"/><circle cx="597.44" cy="341.90" r="0.85"/><circle cx="591.56" cy="341.90" r="0.85"/><circle cx="591.56" cy="345.30" r="0.85"/><circle cx="597.44" cy="345.30" r="0.85"/><path d="M630.35,343.60 L630.85,340.20 L629.15,340.20 L629.65,343.60ZM629.65,343.60 L629.15,347.00 L630.85,347.00 L630.35,343.60ZM630.17,343.90 L633.37,342.64 L632.52,341.16 L629.83,343.30ZM630.17,343.30 L627.48,341.16 L626.63,342.64 L629.83,343.90ZM629.83,343.30 L626.63,344.56 L627.48,346.04 L630.17,343.90ZM629.83,343.90 L632.52,346.04 L633.37,344.56 L630.17,343.30Z"/><circle cx="630.00" cy="340.20" r="0.85"/><circle cx="630.00" cy="347.00" r="0.85"/><circle cx="632.94" cy="341.90" r="0.85"/><circle cx="627.06" cy="341.90" r="0.85"/><circle cx="627.06" cy="345.30" r="0.85"/><circle cx="632.94" cy="345.30" r="0.85"/><path d="M665.95,343.60 L666.45,340.20 L664.75,340.20 L665.25,343.60ZM665.25,343.60 L664.75,347.00 L666.45,347.00 L665.95,343.60ZM665.77,343.90 L668.97,342.64 L668.12,341.16 L665.43,343.30ZM665.77,343.30 L663.08,341.16 L662.23,342.64 L665.43,343.90ZM665.43,343.30 L662.23,344.56 L663.08,346.04 L665.77,343.90ZM665.43,343.90 L668.12,346.04 L668.97,344.56 L665.77,343.30Z"/><circle cx="665.60" cy="340.20" r="0.85"/><circle cx="665.60" cy="347.00" r="0.85"/><circle cx="668.54" cy="341.90" r="0.85"/><circle cx="662.66" cy="341.90" r="0.85"/><circle cx="662.66" cy="345.30" r="0.85"/><circle cx="668.54" cy="345.30" r="0.85"/></g>
<text x="0" y="0" font-size="14" text-anchor="end" fill="#1a1a1a" transform="translate(569.30,514.20) rotate(-47) scale(0.99,1.08)">Common</text>
<text x="0" y="0" font-size="14" text-anchor="end" fill="#1a1a1a" transform="translate(603.10,513.10) rotate(-47) scale(0.99,1.08)">Female</text>
<text x="0" y="0" font-size="14" text-anchor="end" fill="#1a1a1a" transform="translate(635.00,516.30) rotate(-47) scale(1.0,1.08)">Male</text>
<text x="0" y="0" font-size="14" text-anchor="end" fill="#1a1a1a" transform="translate(673.60,515.40) rotate(-47) scale(0.91,1.08)">COSMIC</text>
<text x="0" y="0" font-size="23.5" fill="#111" transform="translate(0.5,622.6) scale(1.04,1.14)">b</text>
<line x1="45.3" y1="743.3" x2="299.0" y2="743.3" stroke="#dadada" stroke-width="0.8" stroke-dasharray="2,1"/>
<line x1="206.6" y1="636.3" x2="206.6" y2="869.2" stroke="#dadada" stroke-width="0.8" stroke-dasharray="2,1"/>
<g>
<circle cx="228.4" cy="643.9" r="2.1" fill="#ff0000"/>
<circle cx="232.8" cy="654.7" r="2.1" fill="#ff0000"/>
<circle cx="257.7" cy="653.3" r="2.1" fill="#ff0000"/>
<circle cx="257.7" cy="666.1" r="2.1" fill="#ff0000"/>
<circle cx="221.2" cy="670.4" r="2.1" fill="#ff0000"/>
<circle cx="245.3" cy="673.6" r="2.1" fill="#ff0000"/>
<circle cx="255.8" cy="688.4" r="2.1" fill="#ff0000"/>
<circle cx="279.7" cy="682" r="2.1" fill="#ff0000"/>
<circle cx="253.5" cy="727.5" r="2.1" fill="#ff0000"/>
<circle cx="279.7" cy="714" r="2.1" fill="#ff0000"/>
<circle cx="238.9" cy="656.6" r="2.1" fill="#00ff00"/>
<circle cx="252.5" cy="657.5" r="2.1" fill="#00ff00"/>
<circle cx="228.4" cy="665.3" r="2.1" fill="#00ff00"/>
<circle cx="245.3" cy="674.6" r="2.1" fill="#00ff00"/>
<circle cx="254.8" cy="682.2" r="2.1" fill="#00ff00"/>
<circle cx="247.2" cy="687.3" r="2.1" fill="#00ff00"/>
<circle cx="290.1" cy="661.9" r="2.1" fill="#00ff00"/>
<circle cx="290.1" cy="697.4" r="2.1" fill="#00ff00"/>
<circle cx="225.4" cy="704" r="2.1" fill="#00ff00"/>
<circle cx="247.2" cy="704" r="2.1" fill="#00ff00"/>
<circle cx="214" cy="727.5" r="2.1" fill="#00ff00"/>
<circle cx="199.4" cy="754.5" r="2.1" fill="#00ff00"/>
<circle cx="169.9" cy="786.4" r="2.1" fill="#00ff00"/>
<circle cx="171.2" cy="795.9" r="2.1" fill="#00ff00"/>
<circle cx="205.7" cy="815.2" r="2.1" fill="#00ff00"/>
<circle cx="127.7" cy="694.5" r="2.0" fill="#c0c0c0"/>
<circle cx="153" cy="710.6" r="2.0" fill="#c0c0c0"/>
<circle cx="169.9" cy="682.8" r="2.0" fill="#c0c0c0"/>
<circle cx="246.3" cy="644.2" r="2.0" fill="#c0c0c0"/>
<circle cx="241.2" cy="656.6" r="2.0" fill="#c0c0c0"/>
<circle cx="217.1" cy="661.7" r="2.0" fill="#c0c0c0"/>
<circle cx="235.8" cy="661.7" r="2.0" fill="#c0c0c0"/>
<circle cx="249.7" cy="661.3" r="2.0" fill="#c0c0c0"/>
<circle cx="290.1" cy="654.3" r="2.0" fill="#c0c0c0"/>
<circle cx="279.7" cy="664.7" r="2.0" fill="#c0c0c0"/>
<circle cx="186.7" cy="669.3" r="2.0" fill="#c0c0c0"/>
<circle cx="237.9" cy="677.1" r="2.0" fill="#c0c0c0"/>
<circle cx="208.9" cy="680.9" r="2.0" fill="#c0c0c0"/>
<circle cx="198.5" cy="682.8" r="2.0" fill="#c0c0c0"/>
<circle cx="254.8" cy="693.6" r="2.0" fill="#c0c0c0"/>
<circle cx="279.7" cy="702.7" r="2.0" fill="#c0c0c0"/>
<circle cx="290.1" cy="703.6" r="2.0" fill="#c0c0c0"/>
<circle cx="208" cy="708.7" r="2.0" fill="#c0c0c0"/>
<circle cx="218.4" cy="710.6" r="2.0" fill="#c0c0c0"/>
<circle cx="219.3" cy="712.9" r="2.0" fill="#c0c0c0"/>
<circle cx="227.5" cy="708.7" r="2.0" fill="#c0c0c0"/>
<circle cx="228.8" cy="710.3" r="2.0" fill="#c0c0c0"/>
<circle cx="279.7" cy="712.5" r="2.0" fill="#c0c0c0"/>
<circle cx="279.7" cy="716.9" r="2.0" fill="#c0c0c0"/>
<circle cx="180.4" cy="718.6" r="2.0" fill="#c0c0c0"/>
<circle cx="224.5" cy="718.8" r="2.0" fill="#c0c0c0"/>
<circle cx="194.1" cy="722" r="2.0" fill="#c0c0c0"/>
<circle cx="198.5" cy="726.4" r="2.0" fill="#c0c0c0"/>
<circle cx="201.7" cy="723.5" r="2.0" fill="#c0c0c0"/>
<circle cx="249.7" cy="723.7" r="2.0" fill="#c0c0c0"/>
<circle cx="204.5" cy="734.9" r="2.0" fill="#c0c0c0"/>
<circle cx="221.2" cy="739.7" r="2.0" fill="#c0c0c0"/>
<circle cx="231.7" cy="739.7" r="2.0" fill="#c0c0c0"/>
<circle cx="208.9" cy="741.6" r="2.0" fill="#c0c0c0"/>
<circle cx="208.9" cy="743.9" r="2.0" fill="#c0c0c0"/>
<circle cx="213.3" cy="743.9" r="2.0" fill="#c0c0c0"/>
<circle cx="179.5" cy="738.2" r="2.0" fill="#c0c0c0"/>
<circle cx="181.8" cy="739.7" r="2.0" fill="#c0c0c0"/>
<circle cx="178.5" cy="742" r="2.0" fill="#c0c0c0"/>
<circle cx="187.1" cy="745.2" r="2.0" fill="#c0c0c0"/>
<circle cx="189.9" cy="743.9" r="2.0" fill="#c0c0c0"/>
<circle cx="189.9" cy="745.4" r="2.0" fill="#c0c0c0"/>
<circle cx="181.4" cy="747.6" r="2.0" fill="#c0c0c0"/>
<circle cx="197.5" cy="749.5" r="2.0" fill="#c0c0c0"/>
<circle cx="143.3" cy="760.7" r="2.0" fill="#c0c0c0"/>
<circle cx="161.7" cy="758.9" r="2.0" fill="#c0c0c0"/>
<circle cx="168" cy="759.8" r="2.0" fill="#c0c0c0"/>
<circle cx="144.8" cy="771.9" r="2.0" fill="#c0c0c0"/>
<circle cx="154.1" cy="771" r="2.0" fill="#c0c0c0"/>
<circle cx="166.1" cy="777.3" r="2.0" fill="#c0c0c0"/>
<circle cx="173.3" cy="776.3" r="2.0" fill="#c0c0c0"/>
<circle cx="144.2" cy="782.2" r="2.0" fill="#c0c0c0"/>
<circle cx="153" cy="781.1" r="2.0" fill="#c0c0c0"/>
<circle cx="161.7" cy="784.8" r="2.0" fill="#c0c0c0"/>
<circle cx="168" cy="789.6" r="2.0" fill="#c0c0c0"/>
<circle cx="171.2" cy="801.4" r="2.0" fill="#c0c0c0"/>
<circle cx="121.8" cy="799.5" r="2.0" fill="#c0c0c0"/>
<circle cx="129.8" cy="797.6" r="2.0" fill="#c0c0c0"/>
<circle cx="148.6" cy="805.9" r="2.0" fill="#c0c0c0"/>
<circle cx="156.8" cy="805.3" r="2.0" fill="#c0c0c0"/>
<circle cx="123.4" cy="812.4" r="2.0" fill="#c0c0c0"/>
<circle cx="133.2" cy="811.8" r="2.0" fill="#c0c0c0"/>
<circle cx="138.5" cy="812.4" r="2.0" fill="#c0c0c0"/>
<circle cx="133.4" cy="818.1" r="2.0" fill="#c0c0c0"/>
<circle cx="168" cy="818.1" r="2.0" fill="#c0c0c0"/>
<circle cx="168" cy="825.6" r="2.0" fill="#c0c0c0"/>
<circle cx="168.3" cy="828.5" r="2.0" fill="#c0c0c0"/>
<circle cx="95.9" cy="837" r="2.0" fill="#c0c0c0"/>
<circle cx="123.4" cy="836.1" r="2.0" fill="#c0c0c0"/>
<circle cx="159.8" cy="835.7" r="2.0" fill="#c0c0c0"/>
<circle cx="164.9" cy="835.7" r="2.0" fill="#c0c0c0"/>
<circle cx="172.1" cy="833.8" r="2.0" fill="#c0c0c0"/>
<circle cx="174" cy="837" r="2.0" fill="#c0c0c0"/>
<circle cx="163" cy="840.8" r="2.0" fill="#c0c0c0"/>
<circle cx="107.2" cy="843.3" r="2.0" fill="#c0c0c0"/>
<circle cx="151.3" cy="845" r="2.0" fill="#c0c0c0"/>
<circle cx="74" cy="850.7" r="2.0" fill="#c0c0c0"/>
<circle cx="117.3" cy="849.9" r="2.0" fill="#c0c0c0"/>
<circle cx="140.4" cy="848.8" r="2.0" fill="#c0c0c0"/>
<circle cx="160.7" cy="849" r="2.0" fill="#c0c0c0"/>
<circle cx="124.7" cy="852.2" r="2.0" fill="#c0c0c0"/>
<circle cx="122.2" cy="855.2" r="2.0" fill="#c0c0c0"/>
<circle cx="145.2" cy="851.8" r="2.0" fill="#c0c0c0"/>
<circle cx="153" cy="851.6" r="2.0" fill="#c0c0c0"/>
<circle cx="150.7" cy="855.2" r="2.0" fill="#c0c0c0"/>
<circle cx="132.3" cy="858.3" r="2.0" fill="#c0c0c0"/>
<circle cx="158.9" cy="860.8" r="2.0" fill="#c0c0c0"/>
<circle cx="170" cy="856" r="2.0" fill="#c0c0c0"/>
<circle cx="179.5" cy="750.7" r="2.0" fill="#c0c0c0"/>
<circle cx="178.2" cy="752.6" r="2.0" fill="#c0c0c0"/>
<circle cx="188" cy="754.1" r="2.0" fill="#c0c0c0"/>
<circle cx="189.9" cy="755.4" r="2.0" fill="#c0c0c0"/>
<circle cx="204.5" cy="755.1" r="2.0" fill="#c0c0c0"/>
<circle cx="214" cy="755.1" r="2.0" fill="#c0c0c0"/>
<circle cx="176.6" cy="756.8" r="2.0" fill="#c0c0c0"/>
<circle cx="180.4" cy="762.6" r="2.0" fill="#c0c0c0"/>
<circle cx="184.8" cy="761.7" r="2.0" fill="#c0c0c0"/>
<circle cx="195.2" cy="761.1" r="2.0" fill="#c0c0c0"/>
<circle cx="222.4" cy="760.2" r="2.0" fill="#c0c0c0"/>
<circle cx="205.7" cy="766.4" r="2.0" fill="#c0c0c0"/>
<circle cx="176.6" cy="769.1" r="2.0" fill="#c0c0c0"/>
<circle cx="186.7" cy="768.3" r="2.0" fill="#c0c0c0"/>
<circle cx="183.7" cy="774" r="2.0" fill="#c0c0c0"/>
<circle cx="189" cy="772.9" r="2.0" fill="#c0c0c0"/>
<circle cx="189" cy="778.2" r="2.0" fill="#c0c0c0"/>
<circle cx="195.2" cy="774.8" r="2.0" fill="#c0c0c0"/>
<circle cx="191.3" cy="784.8" r="2.0" fill="#c0c0c0"/>
<circle cx="180.6" cy="788.6" r="2.0" fill="#c0c0c0"/>
<circle cx="193.3" cy="789.6" r="2.0" fill="#c0c0c0"/>
<circle cx="199.4" cy="788.6" r="2.0" fill="#c0c0c0"/>
<circle cx="222.4" cy="785.2" r="2.0" fill="#c0c0c0"/>
<circle cx="252.5" cy="786.2" r="2.0" fill="#c0c0c0"/>
<circle cx="184.8" cy="794.3" r="2.0" fill="#c0c0c0"/>
<circle cx="185.2" cy="795.9" r="2.0" fill="#c0c0c0"/>
<circle cx="189" cy="797.2" r="2.0" fill="#c0c0c0"/>
<circle cx="190.5" cy="800" r="2.0" fill="#c0c0c0"/>
<circle cx="188" cy="801.5" r="2.0" fill="#c0c0c0"/>
<circle cx="180.6" cy="801.5" r="2.0" fill="#c0c0c0"/>
<circle cx="183.7" cy="806.1" r="2.0" fill="#c0c0c0"/>
<circle cx="181.8" cy="809.5" r="2.0" fill="#c0c0c0"/>
<circle cx="183.3" cy="812.4" r="2.0" fill="#c0c0c0"/>
<circle cx="184.2" cy="813.7" r="2.0" fill="#c0c0c0"/>
<circle cx="188" cy="811" r="2.0" fill="#c0c0c0"/>
<circle cx="197.5" cy="809.5" r="2.0" fill="#c0c0c0"/>
<circle cx="200.4" cy="811" r="2.0" fill="#c0c0c0"/>
<circle cx="204.7" cy="811" r="2.0" fill="#c0c0c0"/>
<circle cx="197.5" cy="816.2" r="2.0" fill="#c0c0c0"/>
<circle cx="181.8" cy="816.7" r="2.0" fill="#c0c0c0"/>
<circle cx="179.5" cy="819.6" r="2.0" fill="#c0c0c0"/>
<circle cx="179.1" cy="824.3" r="2.0" fill="#c0c0c0"/>
<circle cx="192.4" cy="823.4" r="2.0" fill="#c0c0c0"/>
<circle cx="199.4" cy="825.3" r="2.0" fill="#c0c0c0"/>
<circle cx="176.6" cy="827.9" r="2.0" fill="#c0c0c0"/>
<circle cx="181.8" cy="827.9" r="2.0" fill="#c0c0c0"/>
<circle cx="179.1" cy="831.3" r="2.0" fill="#c0c0c0"/>
<circle cx="176.6" cy="832.9" r="2.0" fill="#c0c0c0"/>
<circle cx="186.1" cy="837" r="2.0" fill="#c0c0c0"/>
<circle cx="181.8" cy="838" r="2.0" fill="#c0c0c0"/>
<circle cx="182.9" cy="843.7" r="2.0" fill="#c0c0c0"/>
<circle cx="181.8" cy="846" r="2.0" fill="#c0c0c0"/>
<circle cx="176.6" cy="849.4" r="2.0" fill="#c0c0c0"/>
<circle cx="191.3" cy="852.2" r="2.0" fill="#c0c0c0"/>
<circle cx="176.6" cy="854.7" r="2.0" fill="#c0c0c0"/>
<circle cx="179.5" cy="857.9" r="2.0" fill="#c0c0c0"/>
<circle cx="186.1" cy="857.9" r="2.0" fill="#c0c0c0"/>
<circle cx="176.3" cy="744.4" r="2.0" fill="#000000"/>
<circle cx="54.5" cy="821.7" r="2.0" fill="#000000"/>
<circle cx="158.9" cy="779.2" r="2.0" fill="#000000"/>
<circle cx="168" cy="781.4" r="2.0" fill="#000000"/>
<circle cx="150.9" cy="833" r="2.0" fill="#000000"/>
<circle cx="174" cy="829.4" r="2.0" fill="#000000"/>
<circle cx="110.7" cy="856.6" r="2.0" fill="#000000"/>
<circle cx="130.2" cy="855.1" r="2.0" fill="#000000"/>
<circle cx="194.1" cy="771" r="2.0" fill="#000000"/>
<circle cx="192.4" cy="775.4" r="2.0" fill="#000000"/>
<circle cx="188" cy="834.6" r="2.0" fill="#000000"/>
</g>
<rect x="45.3" y="636.3" width="253.70" height="232.90" fill="none" stroke="#404040" stroke-width="1.3"/>
<line x1="42.099999999999994" y1="644.40" x2="45.3" y2="644.40" stroke="#404040" stroke-width="1.1"/>
<text x="41.5" y="649.80" font-size="14.2" text-anchor="end" fill="#262626" textLength="18.5" lengthAdjust="spacingAndGlyphs" >1.0</text>
<line x1="42.099999999999994" y1="687.92" x2="45.3" y2="687.92" stroke="#404040" stroke-width="1.1"/>
<text x="41.5" y="693.32" font-size="14.2" text-anchor="end" fill="#262626" textLength="18.5" lengthAdjust="spacingAndGlyphs" >0.8</text>
<line x1="42.099999999999994" y1="731.44" x2="45.3" y2="731.44" stroke="#404040" stroke-width="1.1"/>
<text x="41.5" y="736.84" font-size="14.2" text-anchor="end" fill="#262626" textLength="18.5" lengthAdjust="spacingAndGlyphs" >0.6</text>
<line x1="42.099999999999994" y1="774.96" x2="45.3" y2="774.96" stroke="#404040" stroke-width="1.1"/>
<text x="41.5" y="780.36" font-size="14.2" text-anchor="end" fill="#262626" textLength="18.5" lengthAdjust="spacingAndGlyphs" >0.4</text>
<line x1="42.099999999999994" y1="818.48" x2="45.3" y2="818.48" stroke="#404040" stroke-width="1.1"/>
<text x="41.5" y="823.88" font-size="14.2" text-anchor="end" fill="#262626" textLength="18.5" lengthAdjust="spacingAndGlyphs" >0.2</text>
<line x1="42.099999999999994" y1="862.00" x2="45.3" y2="862.00" stroke="#404040" stroke-width="1.1"/>
<line x1="50.70" y1="869.2" x2="50.70" y2="872.4000000000001" stroke="#404040" stroke-width="1.1"/>
<text x="50.70" y="885.2" font-size="13.2" text-anchor="middle" fill="#262626" textLength="15.2" lengthAdjust="spacingAndGlyphs" >10</text>
<line x1="102.20" y1="869.2" x2="102.20" y2="872.4000000000001" stroke="#404040" stroke-width="1.1"/>
<text x="102.20" y="885.2" font-size="13.2" text-anchor="middle" fill="#262626" textLength="15.2" lengthAdjust="spacingAndGlyphs" >15</text>
<line x1="153.70" y1="869.2" x2="153.70" y2="872.4000000000001" stroke="#404040" stroke-width="1.1"/>
<text x="153.70" y="885.2" font-size="13.2" text-anchor="middle" fill="#262626" textLength="15.2" lengthAdjust="spacingAndGlyphs" >20</text>
<line x1="205.20" y1="869.2" x2="205.20" y2="872.4000000000001" stroke="#404040" stroke-width="1.1"/>
<text x="205.20" y="885.2" font-size="13.2" text-anchor="middle" fill="#262626" textLength="15.2" lengthAdjust="spacingAndGlyphs" >25</text>
<line x1="256.70" y1="869.2" x2="256.70" y2="872.4000000000001" stroke="#404040" stroke-width="1.1"/>
<text x="256.70" y="885.2" font-size="13.2" text-anchor="middle" fill="#262626" textLength="15.2" lengthAdjust="spacingAndGlyphs" >30</text>
<text x="175" y="904" font-size="12.5" text-anchor="middle" fill="#262626" textLength="35" lengthAdjust="spacingAndGlyphs" >CADD</text>
<text x="0" y="0" font-size="12.5" text-anchor="middle" fill="#262626" transform="translate(10.3,755) rotate(-90)" textLength="58" lengthAdjust="spacingAndGlyphs">PROVEAN</text>
<text x="51.5" y="650.5" font-size="11.2" font-style="italic" fill="#262626" textLength="98" lengthAdjust="spacingAndGlyphs">R=0.641, p&lt;0.00001</text>
<g fill="none" stroke="#404040" stroke-width="1.1" stroke-dasharray="3,2.2">
<line x1="301.5" y1="636.5" x2="522.0" y2="636.5"/>
<line x1="323.9" y1="636.5" x2="323.9" y2="869.3"/>
<line x1="522.0" y1="636.5" x2="522.0" y2="869.3"/>
<line x1="323.9" y1="869.3" x2="522.0" y2="869.3"/>
<line x1="299.2" y1="746" x2="323.9" y2="869.3"/>
</g>
<line x1="323.9" y1="869.3" x2="323.9" y2="872.5" stroke="#404040" stroke-width="1.1"/>
<line x1="435.7" y1="869.3" x2="435.7" y2="872.5" stroke="#404040" stroke-width="1.1"/>
<text x="322.8" y="885.2" font-size="13.2" text-anchor="middle" fill="#262626" textLength="15.2" lengthAdjust="spacingAndGlyphs" >25</text>
<text x="434.7" y="885.2" font-size="13.2" text-anchor="middle" fill="#262626" textLength="15.2" lengthAdjust="spacingAndGlyphs" >30</text>
<circle cx="392.8" cy="680.8" r="4.1" fill="#00ff00"/>
<circle cx="370" cy="699.5" r="4.1" fill="#00ff00"/>
<circle cx="406.8" cy="720.2" r="4.1" fill="#00ff00"/>
<circle cx="410.3" cy="747.7" r="4.1" fill="#00ff00"/>
<circle cx="422.3" cy="682.5" r="4.1" fill="#00ff00"/>
<circle cx="502.8" cy="692.5" r="4.1" fill="#00ff00"/>
<circle cx="426.6" cy="736.8" r="4.1" fill="#00ff00"/>
<circle cx="503.2" cy="770.4" r="4.1" fill="#00ff00"/>
<circle cx="363.6" cy="784.9" r="4.1" fill="#00ff00"/>
<circle cx="410.7" cy="784.9" r="4.1" fill="#00ff00"/>
<circle cx="338.9" cy="836.1" r="4.1" fill="#00ff00"/>
<circle cx="408.2" cy="653.6" r="4.1" fill="#c0c0c0"/>
<circle cx="397.2" cy="680.3" r="4.1" fill="#c0c0c0"/>
<circle cx="345.5" cy="691.8" r="4.1" fill="#c0c0c0"/>
<circle cx="385.8" cy="691.8" r="4.1" fill="#c0c0c0"/>
<circle cx="415.2" cy="691.3" r="4.1" fill="#c0c0c0"/>
<circle cx="390.5" cy="725.4" r="4.1" fill="#c0c0c0"/>
<circle cx="327.7" cy="733.9" r="4.1" fill="#c0c0c0"/>
<circle cx="502.8" cy="675.9" r="4.1" fill="#c0c0c0"/>
<circle cx="480.6" cy="698.8" r="4.1" fill="#c0c0c0"/>
<circle cx="426.6" cy="761.6" r="4.1" fill="#c0c0c0"/>
<circle cx="480.6" cy="782.1" r="4.1" fill="#c0c0c0"/>
<circle cx="503.2" cy="783.9" r="4.1" fill="#c0c0c0"/>
<circle cx="480.6" cy="801.9" r="4.1" fill="#c0c0c0"/>
<circle cx="480.6" cy="813" r="4.1" fill="#c0c0c0"/>
<circle cx="415.3" cy="827.7" r="4.1" fill="#c0c0c0"/>
<circle cx="326.3" cy="795.4" r="4.1" fill="#c0c0c0"/>
<circle cx="347.6" cy="798.9" r="4.1" fill="#c0c0c0"/>
<circle cx="349.9" cy="803.7" r="4.1" fill="#c0c0c0"/>
<circle cx="368.3" cy="795.8" r="4.1" fill="#c0c0c0"/>
<circle cx="370.4" cy="798.4" r="4.1" fill="#c0c0c0"/>
<circle cx="361.3" cy="817.2" r="4.1" fill="#c0c0c0"/>
<circle cx="354.6" cy="862.9" r="4.1" fill="#c0c0c0"/>
<circle cx="377.1" cy="862.9" r="4.1" fill="#c0c0c0"/>
<circle cx="327.5" cy="866.2" r="4.1" fill="#c0c0c0"/>
<circle cx="370.2" cy="652.4" r="4.1" fill="#ff0000"/>
<circle cx="433.3" cy="673.3" r="4.1" fill="#ff0000"/>
<circle cx="433.3" cy="701.3" r="4.1" fill="#ff0000"/>
<circle cx="354.3" cy="711.1" r="4.1" fill="#ff0000"/>
<circle cx="405.1" cy="717.6" r="4.1" fill="#ff0000"/>
<circle cx="480.6" cy="736.3" r="4.1" fill="#ff0000"/>
<circle cx="428.7" cy="750.3" r="4.1" fill="#ff0000"/>
<circle cx="480" cy="806.8" r="4.1" fill="#ff0000"/>
<circle cx="424.4" cy="835.7" r="4.1" fill="#ff0000"/>
<text x="331.5" y="655.4" font-size="10.8" fill="#ff4b3a" textLength="31.2" lengthAdjust="spacingAndGlyphs">W435R</text>
<text x="417" y="667.1" font-size="10.8" fill="#ff4b3a" textLength="31.9" lengthAdjust="spacingAndGlyphs">Y1802C</text>
<text x="438.4" y="705" font-size="10.8" fill="#ff4b3a" textLength="25.9" lengthAdjust="spacingAndGlyphs">L224P</text>
<text x="389.6" y="712.7" font-size="10.8" fill="#ff4b3a" textLength="34.2" lengthAdjust="spacingAndGlyphs">L1693W</text>
<text x="339.4" y="725.4" font-size="10.8" fill="#ff4b3a" textLength="28.0" lengthAdjust="spacingAndGlyphs">V358D</text>
<text x="463.4" y="729.8" font-size="10.8" fill="#ff4b3a" textLength="32.8" lengthAdjust="spacingAndGlyphs">R1329H</text>
<text x="434" y="753.8" font-size="10.8" fill="#ff4b3a" textLength="33.8" lengthAdjust="spacingAndGlyphs">D1685N</text>
<text x="441.5" y="810.7" font-size="10.8" fill="#ff4b3a" textLength="31.5" lengthAdjust="spacingAndGlyphs">E1764K</text>
<text x="430.1" y="839.6" font-size="10.8" fill="#ff4b3a" textLength="32.4" lengthAdjust="spacingAndGlyphs">A1222P</text>
<g fill="none" stroke="#2a2a2a" stroke-width="1.0" stroke-dasharray="1.6,1.5">
<path d="M546,640.2 L539,640.2 Q536,640.2 536,643 L536,756 Q536,758.4 534.3,758.4"/>
<path d="M534.3,758.4 Q536,758.4 536,761 L536,874 Q536,876.6 539,876.6 L546.7,876.6"/>
</g>
<line x1="523" y1="758.4" x2="534.3" y2="758.4" stroke="#404040" stroke-width="0.9"/>
<line x1="581" y1="822.5" x2="672.2" y2="822.5" stroke="#eaeaea" stroke-width="1"/>
<line x1="581" y1="804.5" x2="672.2" y2="804.5" stroke="#eaeaea" stroke-width="1"/>
<line x1="581" y1="786.5" x2="672.2" y2="786.5" stroke="#eaeaea" stroke-width="1"/>
<line x1="581" y1="768.5" x2="672.2" y2="768.5" stroke="#eaeaea" stroke-width="1"/>
<line x1="581" y1="750.5" x2="672.2" y2="750.5" stroke="#eaeaea" stroke-width="1"/>
<line x1="581" y1="732.5" x2="672.2" y2="732.5" stroke="#eaeaea" stroke-width="1"/>
<line x1="581" y1="714.5" x2="672.2" y2="714.5" stroke="#eaeaea" stroke-width="1"/>
<line x1="581" y1="696.5" x2="672.2" y2="696.5" stroke="#eaeaea" stroke-width="1"/>
<line x1="581" y1="679.5" x2="672.2" y2="679.5" stroke="#eaeaea" stroke-width="1"/>
<line x1="581" y1="661.5" x2="672.2" y2="661.5" stroke="#eaeaea" stroke-width="1"/>
<line x1="581" y1="643.5" x2="672.2" y2="643.5" stroke="#eaeaea" stroke-width="1"/>
<text x="579.2" y="825.90" font-size="11.5" text-anchor="end" fill="#262626" >0</text>
<text x="579.2" y="790.16" font-size="11.5" text-anchor="end" fill="#262626" textLength="13.3" lengthAdjust="spacingAndGlyphs" >20</text>
<text x="579.2" y="754.42" font-size="11.5" text-anchor="end" fill="#262626" textLength="13.3" lengthAdjust="spacingAndGlyphs" >40</text>
<text x="579.2" y="718.68" font-size="11.5" text-anchor="end" fill="#262626" textLength="13.3" lengthAdjust="spacingAndGlyphs" >60</text>
<text x="579.2" y="682.94" font-size="11.5" text-anchor="end" fill="#262626" textLength="13.3" lengthAdjust="spacingAndGlyphs" >80</text>
<text x="579.2" y="647.20" font-size="11.5" text-anchor="end" fill="#262626" textLength="17.5" lengthAdjust="spacingAndGlyphs" >100</text>
<rect x="585.5" y="795.5" width="17.0" height="27.0" fill="#bfbfbf" stroke="#595959" stroke-width="1"/>
<rect x="607.5" y="643.5" width="17.0" height="179.0" fill="#ff7c80" stroke="#595959" stroke-width="1"/>
<rect x="629.5" y="690.5" width="17.0" height="132.0" fill="#a9d18e" stroke="#595959" stroke-width="1"/>
<rect x="651.5" y="741.5" width="17.0" height="81.0" fill="#9dc3e6" stroke="#595959" stroke-width="1"/>
<text x="0" y="0" font-size="11" text-anchor="middle" fill="#262626" transform="translate(558.9,735.2) rotate(-90)" textLength="117" lengthAdjust="spacingAndGlyphs">Percent of Variant Type</text>
<text x="0" y="0" font-size="11.3" text-anchor="end" fill="#1a1a1a" transform="translate(596.90,830.90) rotate(-47) scale(0.99,1.08)">Common</text>
<text x="0" y="0" font-size="11.3" text-anchor="end" fill="#1a1a1a" transform="translate(619.60,830.00) rotate(-47) scale(0.99,1.08)">Female</text>
<text x="0" y="0" font-size="11.3" text-anchor="end" fill="#1a1a1a" transform="translate(641.80,830.50) rotate(-47) scale(1.0,1.08)">Male</text>
<text x="0" y="0" font-size="11.3" text-anchor="end" fill="#1a1a1a" transform="translate(663.90,833.20) rotate(-47) scale(0.91,1.08)">COSMIC</text>
</svg>
</body></html>
